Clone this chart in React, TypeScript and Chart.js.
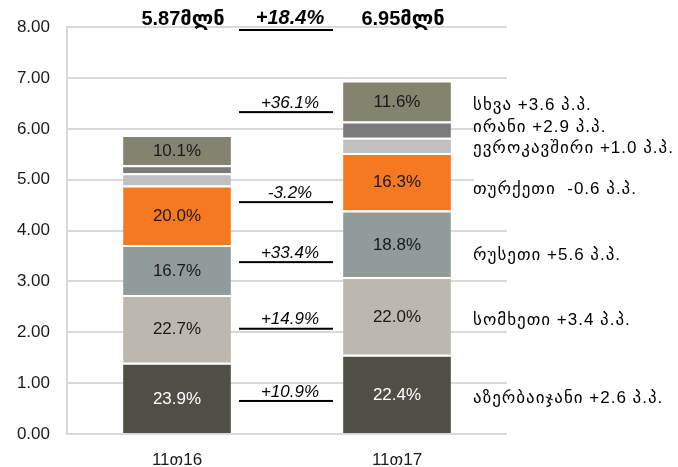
import React, { useEffect, useRef } from "react";
import { Chart, registerables } from "chart.js";
Chart.register(...registerables);

const categories = ["11თ16", "11თ17"];
const seriesNames = ["აზერბაიჯანი", "სომხეთი", "რუსეთი", "თურქეთი", "ევროკავშირი", "ირანი", "სხვა"];
const azerbaijan = [1.403, 1.557];
const armenia = [1.332, 1.529];
const russia = [0.98, 1.307];
const turkey = [1.174, 1.133];
const eu = [0.24, 0.3];
const iran = [0.157, 0.32];
const other = [0.593, 0.806];
const shareLabels = [
  ["23.9%", "22.4%"],
  ["22.7%", "22.0%"],
  ["16.7%", "18.8%"],
  ["20.0%", "16.3%"],
  ["", ""],
  ["", ""],
  ["10.1%", "11.6%"],
];
const totalLabels = ["5.87მლნ", "6.95მლნ"];
const totalGrowth = "+18.4%";
const growthLabels = ["+10.9%", "+14.9%", "+33.4%", "-3.2%", "+36.1%"];
const contributionLabels = [
  "აზერბაიჯანი +2.6 პ.პ.",
  "სომხეთი +3.4 პ.პ.",
  "რუსეთი +5.6 პ.პ.",
  "თურქეთი  -0.6 პ.პ.",
  "ევროკავშირი +1.0 პ.პ.",
  "ირანი +2.9 პ.პ.",
  "სხვა +3.6 პ.პ.",
];
const yMin = 0;
const yMax = 8;
const yStep = 1;

const colors = ["#504f45", "#bcb8b0", "#8f9c9b", "#f47920", "#c0c0c0", "#7a797c", "#83836f"];
const seriesValues = [azerbaijan, armenia, russia, turkey, eu, iran, other];

// annotation anchor levels (in axis units)
const growthAnchors = [0.65, 2.07, 3.38, 4.56, 6.33];
const contribAnchors = [0.75, 2.28, 3.56, 4.85, 5.66, 6.07, 6.5];

const FONT = "'Liberation Sans', 'DejaVu Sans', Arial, sans-serif";

const overlay = {
  id: "overlay",
  afterDatasetsDraw(chart: any) {
    const { ctx, scales } = chart;
    const x = scales.x;
    const y = scales.y;
    ctx.save();
    // segment share labels
    chart.data.datasets.forEach((ds: any, i: number) => {
      const meta = chart.getDatasetMeta(i);
      meta.data.forEach((bar: any, j: number) => {
        const txt = shareLabels[i][j];
        if (!txt) return;
        const p = bar.getProps(["x", "y", "base"], true);
        ctx.fillStyle = i === 0 ? "#ffffff" : "#1a1a1a";
        ctx.font = "17px " + FONT;
        ctx.textAlign = "center";
        ctx.textBaseline = "middle";
        ctx.fillText(txt, p.x, (p.y + p.base) / 2 + 1);
      });
    });

    // totals
    ctx.fillStyle = "#000";
    ctx.font = "bold 20px " + FONT;
    ctx.textAlign = "center";
    ctx.textBaseline = "middle";
    totalLabels.forEach((t, j) => {
      ctx.fillText(t, x.getPixelForValue(j) + 6, 19);
    });

    const mid = (x.getPixelForValue(0) + x.getPixelForValue(1)) / 2;
    // total growth
    ctx.font = "italic bold 20px " + FONT;
    ctx.fillText(totalGrowth, mid + 3, 18);
    ctx.fillStyle = "#000";
    ctx.fillRect(mid - 48, 29, 94, 2);

    // growth labels
    ctx.font = "italic 17px " + FONT;
    growthLabels.forEach((g, k) => {
      const py = y.getPixelForValue(growthAnchors[k]);
      ctx.fillText(g, mid + 3, py - 9);
      ctx.fillRect(mid - 48, py - 1, 94, 2);
    });

    // right labels
    ctx.fillStyle = "#fff";
    ctx.fillRect(474, 92, 40, 106);
    ctx.fillStyle = "#000";
    ctx.font = "17px " + FONT;
    ctx.textAlign = "left";
    try {
      (ctx as any).letterSpacing = "1px";
    } catch (e) {}
    contributionLabels.forEach((c, k) => {
      const py = y.getPixelForValue(contribAnchors[k]);
      ctx.fillText(c, 473, py + 2);
    });
    ctx.restore();
  },
};

export default function App() {
  const ref = useRef<HTMLCanvasElement>(null);
  useEffect(() => {
    if (!ref.current) return;
    const chart = new Chart(ref.current, {
      type: "bar",
      data: {
        labels: categories,
        datasets: seriesValues.map((vals, i) => ({
          label: seriesNames[i],
          data: vals,
          backgroundColor: colors[i],
          borderColor: "#ffffff",
          borderWidth: { top: 2, bottom: 0, left: 0, right: 0 },
          borderSkipped: false,
          categoryPercentage: 1,
          barPercentage: 0.49,
        })),
      },
      options: {
        responsive: false,
        animation: false,
        layout: { padding: { left: 0, right: 171, top: 27, bottom: 0 } },
        plugins: { legend: { display: false }, tooltip: { enabled: false }, title: { display: false } },
        scales: {
          x: {
            stacked: true,
            grid: { display: false, drawTicks: false },
            border: { display: false },
            ticks: { color: "#1a1a1a", font: { family: FONT, size: 17 }, padding: 16 },
            afterFit: (s: any) => {
              s.height = 33;
            },
          },
          y: {
            stacked: true,
            min: yMin,
            max: yMax,
            grid: { color: "#d9d9d9", lineWidth: 2, drawTicks: false },
            border: { display: true, color: "#d9d9d9", width: 2 },
            ticks: {
              stepSize: yStep,
              color: "#1a1a1a",
              font: { family: FONT, size: 17 },
              padding: 17,
              callback: (v: any) => Number(v).toFixed(2),
            },
            afterFit: (s: any) => {
              s.width = 67;
            },
          },
        },
      },
      plugins: [overlay],
    });
    return () => chart.destroy();
  }, []);
  return (
    <div style={{ position: "fixed", left: 0, top: 0, width: 678, height: 467, background: "#fff" }}>
      <canvas ref={ref} width={678} height={467} style={{ display: "block" }} />
    </div>
  );
}
